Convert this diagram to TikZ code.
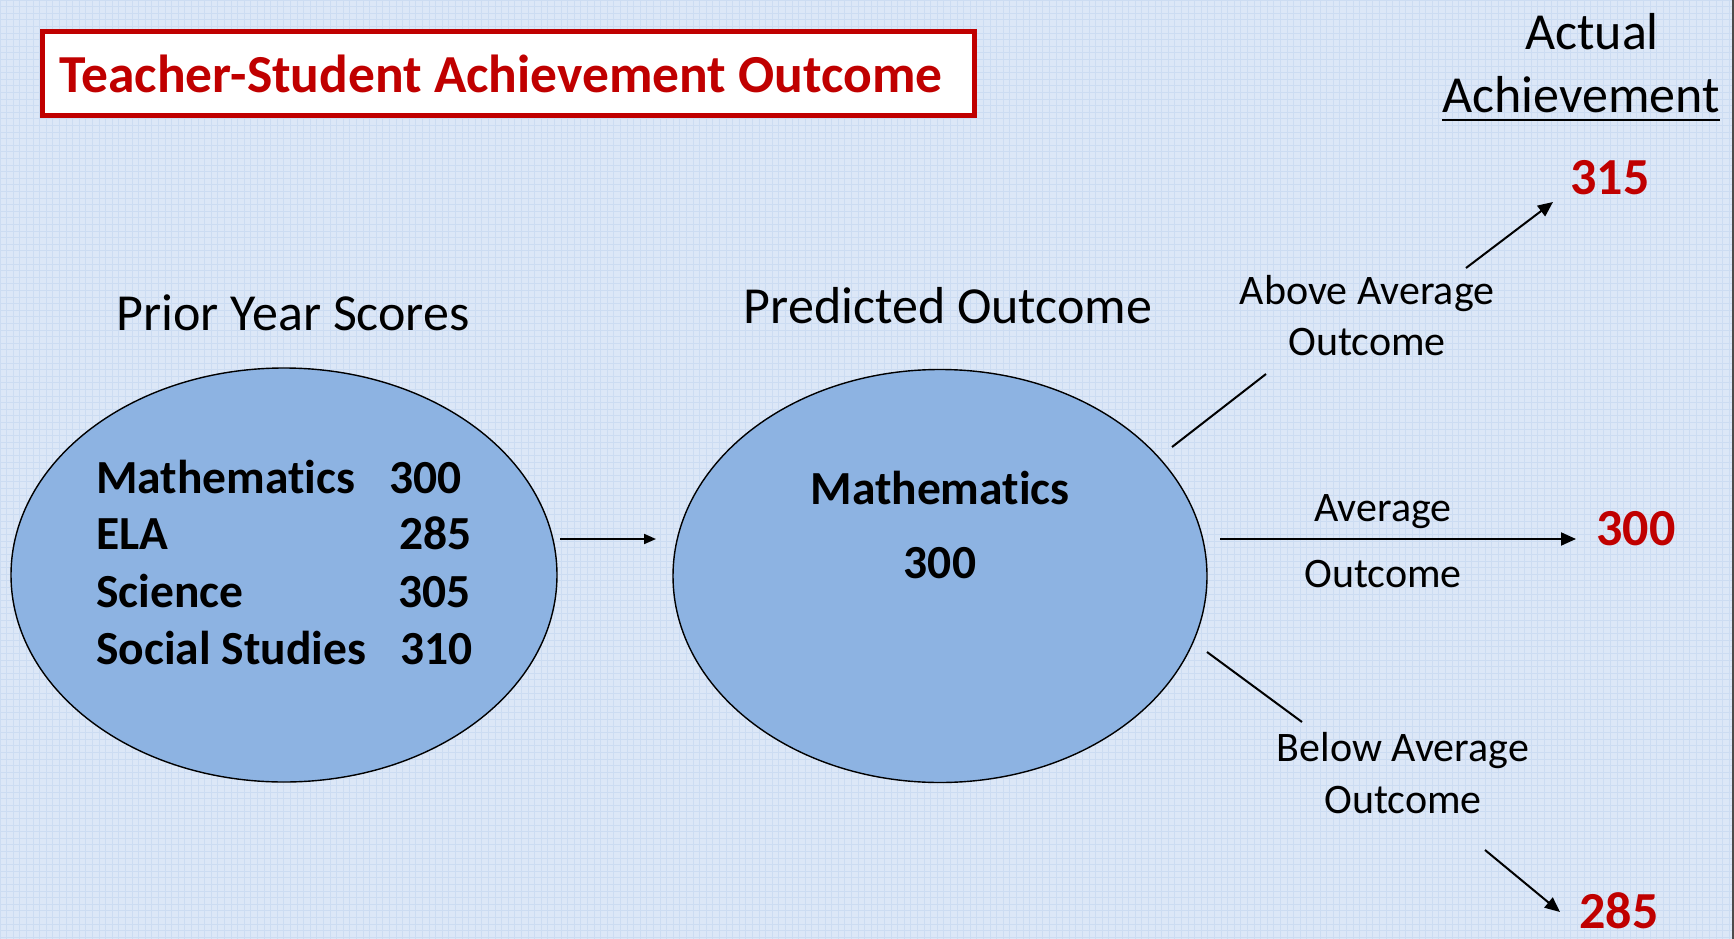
\documentclass[tikz,border=0pt]{standalone}
\usepackage{fontspec}
\setmainfont[Ligatures=NoCommon]{Carlito}
\usetikzlibrary{shapes.geometric,arrows.meta}
\definecolor{bgblue}{HTML}{DCE7F7}
\definecolor{gridblue}{HTML}{CCDCF2}
\definecolor{ellblue}{HTML}{8DB3E2}
\definecolor{darkred}{HTML}{C00000}
\tikzset{
  oval/.style={ellipse, draw=black, line width=1.4pt, fill=ellblue, inner sep=0pt},
  lbl/.style={font=\fontsize{52}{60}\selectfont, inner sep=0pt, anchor=base},
  sublbl/.style={font=\fontsize{42}{50}\selectfont, inner sep=0pt, anchor=base},
  inbold/.style={font=\fontsize{47.5}{56}\selectfont\bfseries, inner sep=0pt, anchor=base west},
  rednum/.style={font=\fontsize{52}{60}\selectfont\bfseries, text=darkred, inner sep=0pt, anchor=base},
  conn/.style={line width=2pt, draw=black},
  arr/.style={conn, -{Triangle[length=15pt,width=13pt]}},
  smallarr/.style={conn, -{Triangle[length=12pt,width=10pt]}}
}
\begin{document}
\begin{tikzpicture}[x=1pt,y=-1pt]
\useasboundingbox (0,0) rectangle (1734,939);
\fill[bgblue] (0,0) rectangle (1734,939);
\draw[gridblue, line width=0.7pt, step=6.6pt] (0,0) grid (1734,939);
\draw[black!70, line width=1.5pt] (1733,0) -- (1733,939);

% title
\node[draw=darkred, line width=5pt, fill=white, minimum width=932pt, minimum height=84pt,
      inner sep=0pt] (titlebox) at (508,74) {};
\node[text=darkred, font=\fontsize{53.5}{60}\selectfont\bfseries, inner sep=0pt, anchor=base]
      (title) at (501,93) {Teacher-Student Achievement Outcome};

% headings
\node[lbl] (prior) at (293,330) {Prior Year Scores};
\node[lbl] (pred) at (948,323) {Predicted Outcome};
\node[lbl] (actual) at (1592,50) {Actual};
\node[lbl] (ach) at (1581,113) {Achievement};
\draw[line width=2.5pt] ([yshift=-7pt]ach.base west) coordinate (ulA) -- ([yshift=-7pt]ach.base east) coordinate (ulB);

% ellipses
\node[oval, minimum width=546pt, minimum height=414pt] (prev) at (284,575) {};
\node[oval, minimum width=534pt, minimum height=413pt] (predo) at (940,576) {};

% left contents
\node[inbold] (m1) at (96,493) {Mathematics};
\node[inbold] (m1n) at (389,493) {300};
\node[inbold] (e1) at (96,549) {ELA};
\node[inbold] (e1n) at (399,549) {285};
\node[inbold] (s1) at (96,607) {Science};
\node[inbold] (s1n) at (398,607) {305};
\node[inbold] (ss1) at (96,664) {Social Studies};
\node[inbold] (ss1n) at (400,664) {310};

% right contents
\node[inbold, anchor=base] (m2) at (940,504) {Mathematics};
\node[inbold, anchor=base] (m2n) at (940,578) {300};

% connector between ellipses
\coordinate (pA) at (560,539);
\coordinate (pB) at (656,539);
\draw[smallarr] (pA) -- (pB);

% above average
\coordinate (aA) at (1172,447);
\coordinate (aB) at (1266,374);
\coordinate (aC) at (1466,268);
\coordinate (aD) at (1553,202);
\draw[conn] (aA) -- (aB);
\draw[arr] (aC) -- (aD);
\node[sublbl] (above1) at (1367,304) {Above Average};
\node[sublbl] (above2) at (1367,355) {Outcome};
\node[rednum] (n315) at (1610,194) {315};

% average
\coordinate (vA) at (1220,539);
\coordinate (vB) at (1576,539);
\draw[arr] (vA) -- (vB);
\node[sublbl] (avg1) at (1383,521) {Average};
\node[sublbl] (avg2) at (1383,587) {Outcome};
\node[rednum] (n300) at (1636,545) {300};

% below average
\coordinate (bA) at (1207,652);
\coordinate (bB) at (1302,722);
\coordinate (bC) at (1485,850);
\coordinate (bD) at (1560,912);
\draw[conn] (bA) -- (bB);
\draw[arr] (bC) -- (bD);
\node[rednum] (n285) at (1619,928) {285};
\node[sublbl] (below1) at (1403,761) {Below Average};
\node[sublbl] (below2) at (1403,813) {Outcome};
\end{tikzpicture}
\end{document}
